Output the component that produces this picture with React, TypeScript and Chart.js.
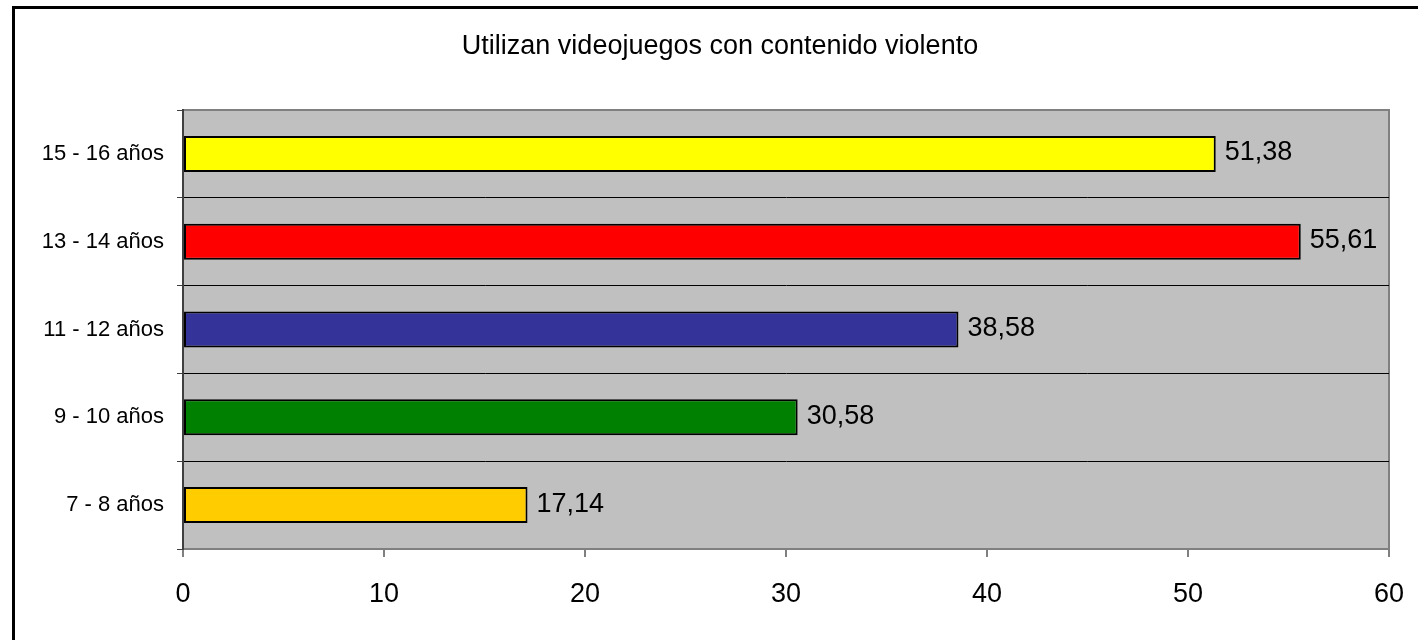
import React, { useEffect, useRef } from "react";
import { Chart, registerables } from "chart.js";

Chart.register(...registerables);

const TITLE = "Utilizan videojuegos con contenido violento";
const categories = ["15 - 16 años", "13 - 14 años", "11 - 12 años", "9 - 10 años", "7 - 8 años"];
const values = [51.38, 55.61, 38.58, 30.58, 17.14];
const barColors = ["#FFFF00", "#FF0000", "#333399", "#008000", "#FFCC00"];
const xMin = 0;
const xMax = 60;
const xStep = 10;

const FONT = "'Liberation Sans', Arial, sans-serif";

const framePlugin = {
  id: "frame",
  beforeDraw(chart: any) {
    const { ctx, chartArea } = chart;
    ctx.save();
    ctx.fillStyle = "#FFFFFF";
    ctx.fillRect(0, 0, chart.width, chart.height);
    ctx.fillStyle = "#C0C0C0";
    ctx.fillRect(chartArea.left, chartArea.top, chartArea.right - chartArea.left, chartArea.bottom - chartArea.top);
    ctx.strokeStyle = "#808080";
    ctx.lineWidth = 2;
    ctx.beginPath();
    ctx.moveTo(chartArea.left, chartArea.top);
    ctx.lineTo(chartArea.right, chartArea.top);
    ctx.lineTo(chartArea.right, chartArea.bottom);
    ctx.stroke();
    ctx.restore();
  },
  afterDraw(chart: any) {
    const { ctx } = chart;
    ctx.save();
    ctx.strokeStyle = "#000000";
    ctx.lineWidth = 3;
    ctx.strokeRect(13.5, 7.5, 1600, 1000);
    ctx.fillStyle = "#000000";
    ctx.font = `27px ${FONT}`;
    ctx.textAlign = "center";
    ctx.textBaseline = "alphabetic";
    ctx.fillText(TITLE, 720, 54);
    ctx.restore();
  },
};

const labelPlugin = {
  id: "barLabels",
  afterDatasetsDraw(chart: any) {
    const { ctx } = chart;
    const meta = chart.getDatasetMeta(0);
    ctx.save();
    ctx.fillStyle = "#000000";
    ctx.font = `27px ${FONT}`;
    ctx.textAlign = "left";
    ctx.textBaseline = "middle";
    meta.data.forEach((el: any, i: number) => {
      const txt = values[i].toFixed(2).replace(".", ",");
      ctx.fillText(txt, el.x + 9, el.y - 1);
    });
    ctx.restore();
  },
};

export default function App() {
  const ref = useRef<HTMLCanvasElement | null>(null);
  useEffect(() => {
    if (!ref.current) return;
    const chart = new Chart(ref.current, {
      type: "bar",
      data: {
        labels: categories,
        datasets: [
          {
            data: values,
            backgroundColor: barColors,
            borderColor: "#000000",
            borderWidth: 2,
            borderSkipped: false,
            barPercentage: 0.41,
            categoryPercentage: 1,
          },
        ],
      },
      options: {
        indexAxis: "y",
        responsive: false,
        animation: false,
        layout: { padding: { top: 110, right: 29, left: 0, bottom: 0 } },
        plugins: {
          legend: { display: false },
          title: { display: false },
          tooltip: { enabled: false },
        },
        scales: {
          x: {
            type: "linear",
            min: xMin,
            max: xMax,
            ticks: {
              stepSize: xStep,
              color: "#000000",
              font: { family: FONT, size: 27 },
              padding: 21,
            },
            grid: {
              drawOnChartArea: false,
              drawTicks: true,
              tickLength: 8,
              color: "#808080",
              tickColor: "#808080",
              lineWidth: 2,
            },
            border: { display: true, color: "#808080", width: 2 },
            afterFit(scale: any) {
              scale.height = 91;
              scale.paddingLeft = 0;
              scale.paddingRight = 0;
            },
          },
          y: {
            type: "category",
            ticks: {
              color: "#000000",
              font: { family: FONT, size: 22 },
              padding: 13,
            },
            grid: {
              offset: true,
              drawOnChartArea: true,
              drawTicks: true,
              tickLength: 6,
              color: (c: any) => (c.index === 0 ? "#808080" : "#000000"),
              tickColor: "#404040",
              lineWidth: 1,
            },
            border: { display: true, color: "#404040", width: 2 },
            afterFit(scale: any) {
              scale.width = 183;
              scale.paddingTop = 0;
              scale.paddingBottom = 0;
            },
          },
        },
      },
      plugins: [framePlugin, labelPlugin],
    } as any);
    return () => chart.destroy();
  }, []);
  return (
    <div style={{ position: "fixed", left: 0, top: 0, width: 1418, height: 640 }}>
      <canvas ref={ref} width={1418} height={640} style={{ display: "block" }} />
    </div>
  );
}
